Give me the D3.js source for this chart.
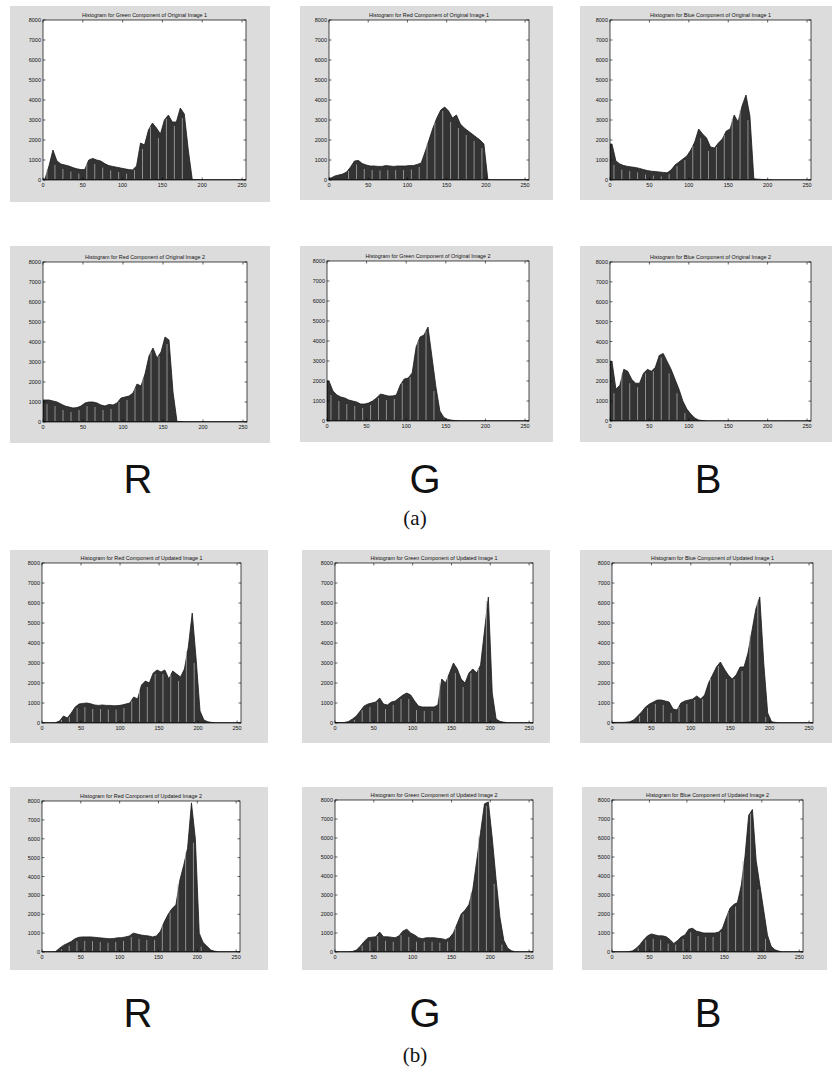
<!DOCTYPE html>
<html>
<head>
<meta charset="utf-8">
<script src="https://cdn.jsdelivr.net/npm/d3@7"></script>
<style>
  body { margin: 0; background: #fff; }
  svg text { font-family: "Liberation Sans", Arial, sans-serif; }
</style>
</head>
<body>
<svg id="fig" width="833" height="1082"></svg>
<script>
// bins of width 5, starting at 0, 5, ..., 255
const binWidth = 5;
const xTicks = [0, 50, 100, 150, 200, 250];
const yTicks = [0, 1000, 2000, 3000, 4000, 5000, 6000, 7000, 8000];

const titles = [
  "Histogram for Green Component of Original Image 1",
  "Histogram for Red Component of Original Image 1",
  "Histogram for Blue Component of Original Image 1",
  "Histogram for Red Component of Original Image 2",
  "Histogram for Green Component of Original Image 2",
  "Histogram for Blue Component of Original Image 2",
  "Histogram for Red Component of Updated Image 1",
  "Histogram for Green Component of Updated Image 1",
  "Histogram for Blue Component of Updated Image 1",
  "Histogram for Red Component of Updated Image 2",
  "Histogram for Green Component of Updated Image 2",
  "Histogram for Blue Component of Updated Image 2"
];

const greenOrig1 = [50,700,1500,950,800,750,700,620,560,520,520,1000,1080,1000,950,820,720,680,640,600,560,520,500,700,1850,1750,2500,2850,2600,2300,3000,3250,2900,2900,3600,3300,1500,30,20,15,10,10,10,10,10,10,10,10,10,10,10,10];
const redOrig1 = [100,200,250,300,400,650,950,980,820,750,700,700,680,680,720,700,680,700,700,700,720,720,780,850,1400,2000,2600,3100,3500,3650,3450,3100,3250,2800,2600,2450,2300,2150,2000,1800,30,10,10,10,10,10,10,10,10,10,10,10];
const blueOrig1 = [1800,950,800,720,680,650,620,580,520,470,440,420,400,380,360,500,750,900,1050,1200,1500,1900,2550,2300,2100,1650,1600,1850,2050,2450,2550,3250,2900,3700,4250,3200,60,40,30,20,15,5,5,5,5,5,5,5,5,5,5,5];
const redOrig2 = [1100,1100,1050,1000,900,800,750,700,720,800,950,1000,1000,950,850,800,880,850,950,1200,1250,1300,1450,1900,1800,2400,3300,3700,3200,3500,4250,4100,1500,30,20,10,10,10,10,10,10,10,10,10,10,10,10,10,10,10,10,10];
const greenOrig2 = [2000,1500,1300,1200,1150,1050,1000,950,850,850,900,1000,1150,1350,1300,1250,1250,1300,1800,2100,2150,2400,3700,4200,4300,4700,3200,1700,500,180,80,40,20,8,8,8,8,8,8,8,8,8,8,8,8,8,8,8,8,8,8,8];
const blueOrig2 = [3000,1600,1800,2600,2500,2100,1900,1900,2400,2600,2500,2700,3300,3400,3000,2600,2100,1600,1000,600,350,150,50,20,5,5,5,5,5,5,5,5,5,5,5,5,5,5,5,5,5,5,5,5,5,5,5,5,5,5,5,5];
const redUpd1 = [10,10,10,20,100,350,250,500,800,950,980,1000,960,900,880,900,880,880,860,870,900,950,1000,1300,1200,1900,2100,2000,2500,2650,2550,2650,2200,2600,2450,2300,2700,3800,5500,3200,600,150,60,30,10,10,10,10,10,10,10,10];
const greenUpd1 = [20,20,30,80,200,350,600,850,950,1000,1050,1250,950,900,1050,1100,1250,1400,1500,1400,1100,850,800,800,800,800,900,2200,2000,2500,3000,2700,2200,2000,2500,2700,2500,2900,4600,6300,1500,200,80,40,15,15,15,15,15,15,15,15];
const blueUpd1 = [30,30,30,40,60,150,350,550,800,950,1050,1150,1150,1100,1050,700,650,1000,1100,1150,1200,1350,1200,1400,2000,2400,2800,3050,2700,2400,2200,2400,2800,2800,3500,4600,5700,6300,3000,500,60,30,10,10,10,10,10,10,10,10,10,10];
const redUpd2 = [10,10,10,20,200,350,450,550,700,780,800,800,800,780,760,740,720,700,720,750,760,800,850,1000,950,900,870,850,800,850,1100,1600,2000,2300,2500,3800,4600,5500,7900,6000,1000,500,300,100,40,10,10,10,10,10,10,10];
const greenUpd2 = [10,10,10,10,30,100,300,550,750,780,800,1050,800,800,780,750,850,1100,1200,1000,900,750,700,750,750,750,720,700,650,750,1000,1500,2000,2200,2500,3300,4800,6300,7800,7900,6000,3800,1800,600,200,60,10,10,10,10,10,10];
const blueUpd2 = [10,10,10,10,20,60,200,400,650,850,950,900,850,850,800,650,450,600,800,900,1200,1250,1100,1050,1000,1000,1000,1000,1050,1250,1800,2300,2500,2600,3500,5000,7200,7500,4800,3500,2200,900,300,120,50,10,10,10,10,10,10,10];

const series = [greenOrig1, redOrig1, blueOrig1, redOrig2, greenOrig2, blueOrig2,
                redUpd1, greenUpd1, blueUpd1, redUpd2, greenUpd2, blueUpd2];

// panel layout: gray frame box and inner axes box
const layout = [
  { fx: 10,  fy: 6,   fw: 260, fh: 196, ax: 43,  ay: 20,  aw: 203, ah: 160 },
  { fx: 300, fy: 6,   fw: 253, fh: 194, ax: 329, ay: 20,  aw: 200, ah: 160 },
  { fx: 580, fy: 6,   fw: 252, fh: 194, ax: 610, ay: 20,  aw: 201, ah: 160 },
  { fx: 10,  fy: 246, fw: 260, fh: 197, ax: 43,  ay: 262, aw: 204, ah: 160 },
  { fx: 300, fy: 246, fw: 253, fh: 196, ax: 327, ay: 261, aw: 202, ah: 160 },
  { fx: 580, fy: 246, fw: 252, fh: 196, ax: 610, ay: 262, aw: 201, ah: 159 },
  { fx: 10,  fy: 550, fw: 258, fh: 193, ax: 42,  ay: 563, aw: 199, ah: 160 },
  { fx: 302, fy: 550, fw: 248, fh: 193, ax: 335, ay: 563, aw: 198, ah: 160 },
  { fx: 580, fy: 550, fw: 252, fh: 193, ax: 612, ay: 563, aw: 201, ah: 160 },
  { fx: 10,  fy: 787, fw: 258, fh: 183, ax: 42,  ay: 801, aw: 198, ah: 151 },
  { fx: 302, fy: 787, fw: 251, fh: 183, ax: 335, ay: 800, aw: 198, ah: 152 },
  { fx: 582, fy: 787, fw: 245, fh: 183, ax: 612, ay: 800, aw: 191, ah: 152 }
];

const svg = d3.select("#fig");

series.forEach((values, i) => {
  const L = layout[i];
  const bins = values.map((v, k) => ({ x0: k * binWidth, v }));

  svg.append("rect")
    .attr("x", L.fx).attr("y", L.fy).attr("width", L.fw).attr("height", L.fh)
    .attr("fill", "#dcdcdc");

  const g = svg.append("g").attr("transform", `translate(${L.ax},${L.ay})`);
  const x = d3.scaleLinear().domain([0, 255]).range([0, L.aw]);
  const y = d3.scaleLinear().domain([0, 8000]).range([L.ah, 0]).clamp(true);

  g.append("rect").attr("width", L.aw).attr("height", L.ah).attr("fill", "#fff");

  const clipId = "clip" + i;
  g.append("clipPath").attr("id", clipId)
    .append("rect").attr("width", L.aw).attr("height", L.ah);

  const pts = [{ x0: 0, v: values[0], c: 0 }]
    .concat(bins.map(b => ({ x0: b.x0, v: b.v, c: b.x0 + binWidth / 2 })))
    .concat([{ x0: 255, v: values[values.length - 1], c: 255 }]);

  const area = d3.area()
    .x(d => x(d.c))
    .y0(y(0))
    .y1(d => y(d.v));

  const hg = g.append("g").attr("clip-path", `url(#${clipId})`);
  hg.append("path")
    .datum(pts)
    .attr("d", area)
    .attr("fill", "#333")
    .attr("stroke", "#1a1a1a")
    .attr("stroke-width", 0.8);

  // light stripes inside the filled histogram
  hg.selectAll(".stripe")
    .data(bins.filter((b, k) => k % 2 === 1 && b.v > 300))
    .enter().append("line")
    .attr("class", "stripe")
    .attr("x1", d => x(d.x0)).attr("x2", d => x(d.x0))
    .attr("y1", y(0) - 1).attr("y2", d => y(d.v) + 4)
    .attr("stroke", "#b5b5b5")
    .attr("stroke-width", 0.9)
    .attr("opacity", 0.8);

  // box and inward ticks
  g.append("rect").attr("width", L.aw).attr("height", L.ah)
    .attr("fill", "none").attr("stroke", "#000").attr("stroke-width", 0.7);

  const tl = 2.5;
  g.selectAll(".xt").data(xTicks).enter().append("path")
    .attr("d", d => `M${x(d)},${L.ah}v${-tl}M${x(d)},0v${tl}`)
    .attr("stroke", "#000").attr("stroke-width", 0.6);
  g.selectAll(".yt").data(yTicks).enter().append("path")
    .attr("d", d => `M0,${y(d)}h${tl}M${L.aw},${y(d)}h${-tl}`)
    .attr("stroke", "#000").attr("stroke-width", 0.6);

  g.selectAll(".xl").data(xTicks).enter().append("text")
    .attr("x", d => x(d)).attr("y", L.ah + 7)
    .attr("text-anchor", "middle")
    .attr("font-size", 5.5).attr("fill", "#111")
    .text(d => d);
  g.selectAll(".yl").data(yTicks).enter().append("text")
    .attr("x", -2).attr("y", d => y(d) + 2)
    .attr("text-anchor", "end")
    .attr("font-size", 5.5).attr("fill", "#111")
    .text(d => d);

  g.append("text")
    .attr("x", L.aw / 2).attr("y", -3)
    .attr("text-anchor", "middle")
    .attr("font-size", 5.4).attr("fill", "#111")
    .text(titles[i]);
});

// channel labels and subfigure captions
const channelLabels = ["R", "G", "B"];
const labelX = [138, 425, 708];
const labelRows = [493, 1027];
const captions = ["(a)", "(b)"];
const captionY = [525, 1062];

labelRows.forEach((ly, r) => {
  svg.selectAll(null).data(channelLabels).enter().append("text")
    .attr("x", (d, k) => labelX[k]).attr("y", ly)
    .attr("text-anchor", "middle")
    .attr("font-size", 40)
    .attr("fill", "#111")
    .text(d => d);
  svg.append("text")
    .attr("x", 415).attr("y", captionY[r])
    .attr("text-anchor", "middle")
    .style("font-family", "'Liberation Serif', 'DejaVu Serif', serif")
    .attr("font-size", 21)
    .attr("fill", "#111")
    .text(captions[r]);
});
</script>
</body>
</html>
